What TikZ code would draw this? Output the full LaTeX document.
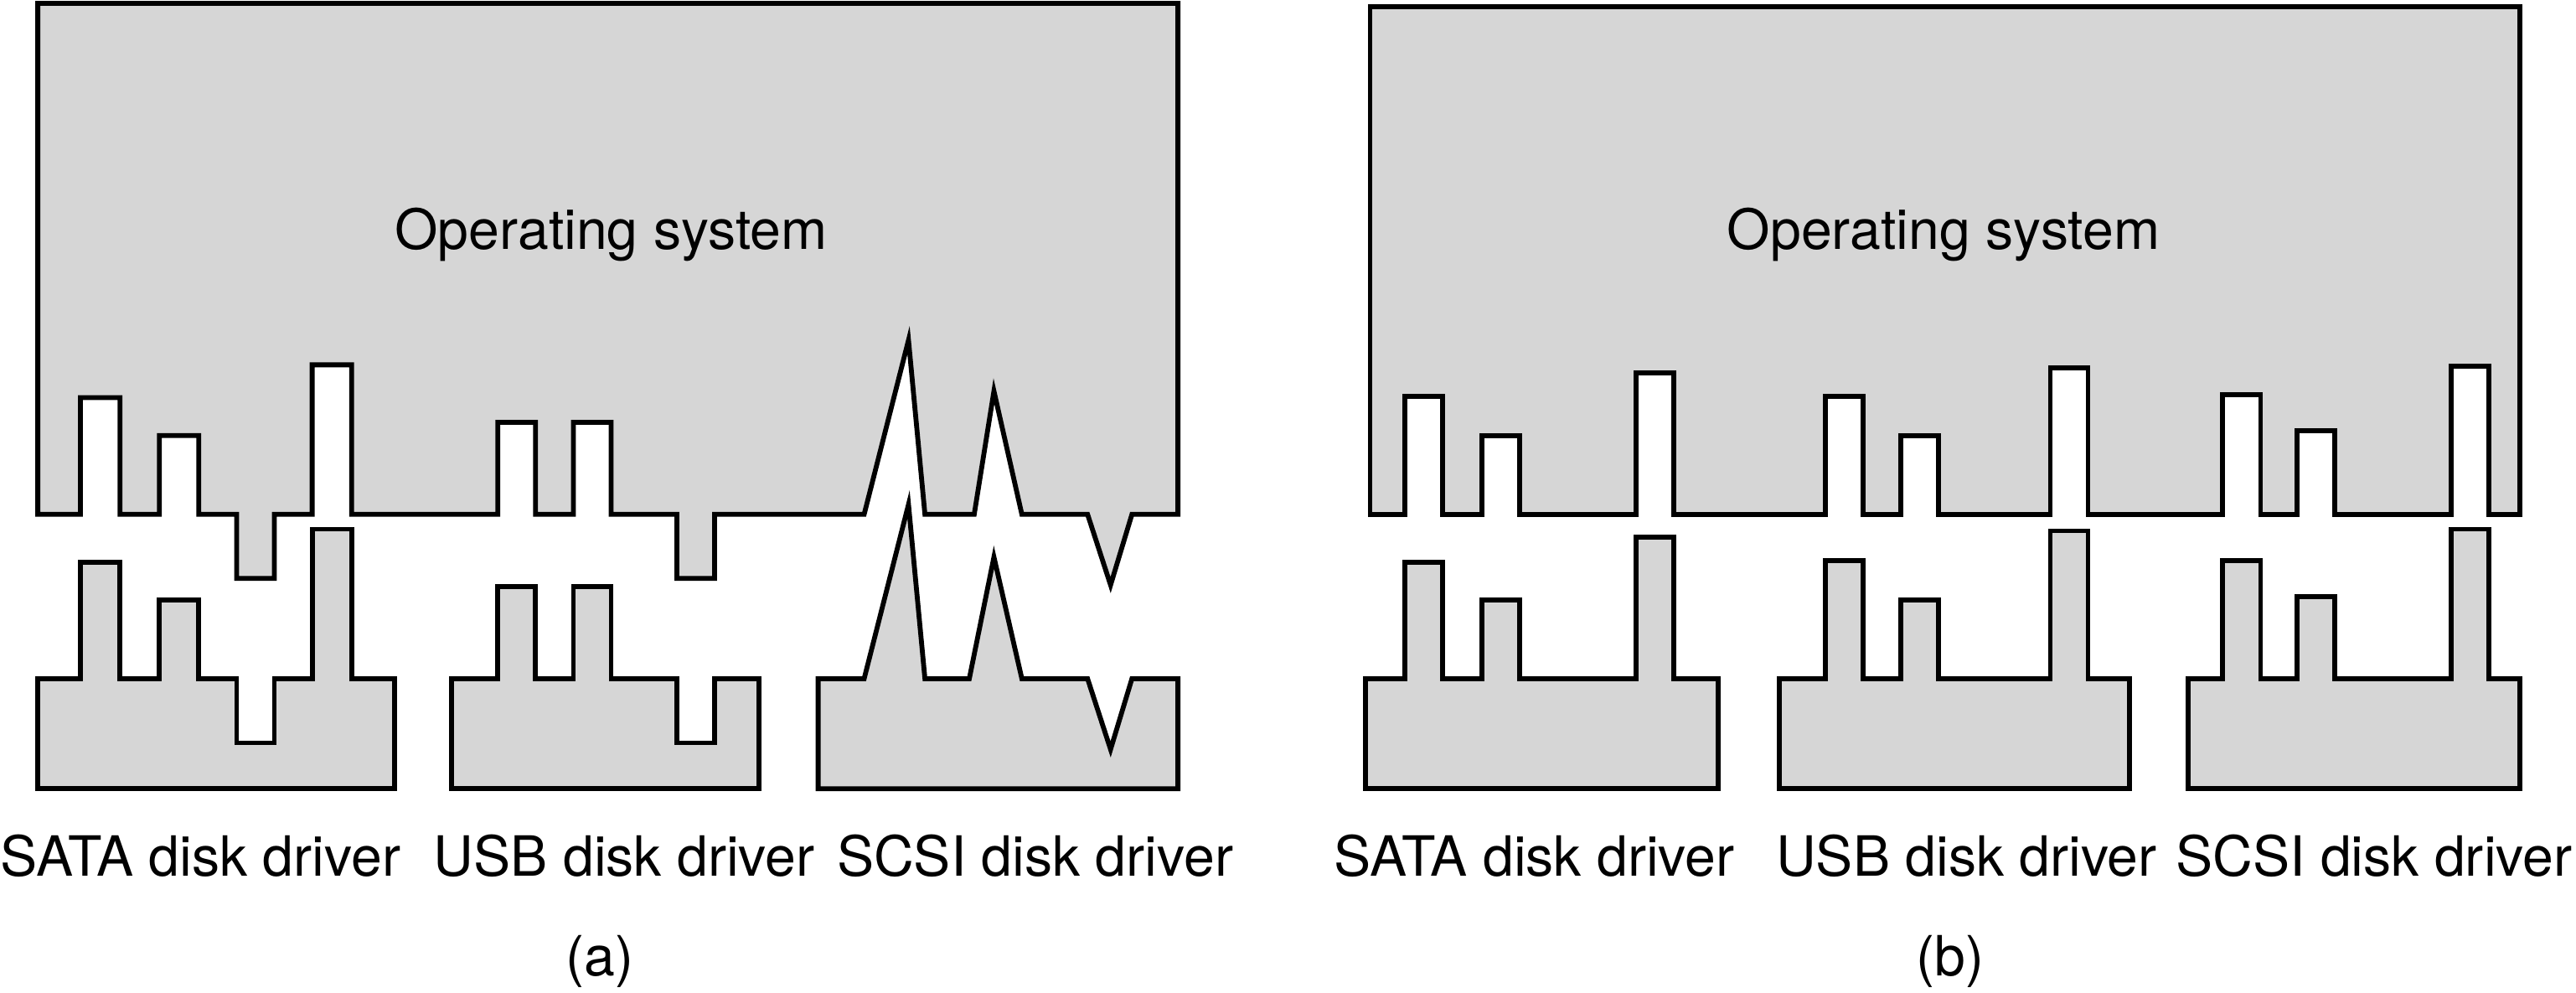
\documentclass[tikz,border=0pt]{standalone}
\usepackage{fontspec}
\setmainfont{TeX Gyre Heros}
\usepackage{tikz}
\usetikzlibrary{positioning}
\definecolor{osgray}{RGB}{214,214,214}

\begin{document}
\begin{tikzpicture}[
  x=0.25mm, y=-0.25mm,
  part/.style={draw=black, fill=osgray, line width=2.1pt, line join=miter},
  every node/.style={font=\fontsize{24}{28}\selectfont, inner sep=0pt}
]
\useasboundingbox (0,0) rectangle (1568,604);

% (a) operating system with one interface per driver
\draw[part] (23,2) -- (23,313)
  -- (49,313) -- (49,242) -- (73,242) -- (73,313)
  -- (97,313) -- (97,265) -- (121,265) -- (121,313)
  -- (144,313) -- (144,352) -- (167,352) -- (167,313)
  -- (190,313) -- (190,222) -- (214,222) -- (214,313)
  -- (303,313) -- (303,257) -- (326,257) -- (326,313)
  -- (349,313) -- (349,257) -- (372,257) -- (372,313)
  -- (412,313) -- (412,352) -- (435,352) -- (435,313)
  -- (526,313) -- (553,207) -- (563,313)
  -- (593,313) -- (605,238) -- (622,313)
  -- (662,313) -- (676,356) -- (689,313)
  -- (717,313) -- (717,2) -- cycle;

\draw[part] (23,413) -- (49,413) -- (49,342) -- (73,342) -- (73,413)
  -- (97,413) -- (97,365) -- (121,365) -- (121,413)
  -- (144,413) -- (144,452) -- (167,452) -- (167,413)
  -- (190,413) -- (190,322) -- (214,322) -- (214,413)
  -- (240,413) -- (240,480) -- (23,480) -- cycle;

\draw[part] (275,413) -- (303,413) -- (303,357) -- (326,357) -- (326,413)
  -- (349,413) -- (349,357) -- (372,357) -- (372,413)
  -- (412,413) -- (412,452) -- (435,452) -- (435,413)
  -- (462,413) -- (462,480) -- (275,480) -- cycle;

\draw[part] (498,413) -- (526,413) -- (553,307) -- (563,413)
  -- (590,413) -- (605,339) -- (622,413)
  -- (662,413) -- (676,456) -- (689,413)
  -- (717,413) -- (717,480) -- (498,480) -- cycle;

% (b) operating system with one standard interface
\draw[part] (834,4) -- (834,313)
  -- (855,313) -- (855,241) -- (878,241) -- (878,313)
  -- (902,313) -- (902,265) -- (925,265) -- (925,313)
  -- (996,313) -- (996,227) -- (1019,227) -- (1019,313)
  -- (1111,313) -- (1111,241) -- (1134,241) -- (1134,313)
  -- (1157,313) -- (1157,265) -- (1180,265) -- (1180,313)
  -- (1248,313) -- (1248,224) -- (1271,224) -- (1271,313)
  -- (1353,313) -- (1353,240) -- (1376,240) -- (1376,313)
  -- (1398,313) -- (1398,262) -- (1421,262) -- (1421,313)
  -- (1492,313) -- (1492,223) -- (1515,223) -- (1515,313)
  -- (1534,313) -- (1534,4) -- cycle;

\draw[part] (831,413) -- (855,413) -- (855,342) -- (878,342) -- (878,413)
  -- (902,413) -- (902,365) -- (925,365) -- (925,413)
  -- (996,413) -- (996,327) -- (1019,327) -- (1019,413)
  -- (1046,413) -- (1046,480) -- (831,480) -- cycle;

\draw[part] (1083,413) -- (1111,413) -- (1111,341) -- (1134,341) -- (1134,413)
  -- (1157,413) -- (1157,365) -- (1180,365) -- (1180,413)
  -- (1248,413) -- (1248,323) -- (1271,323) -- (1271,413)
  -- (1296,413) -- (1296,480) -- (1083,480) -- cycle;

\draw[part] (1332,413) -- (1353,413) -- (1353,341) -- (1376,341) -- (1376,413)
  -- (1398,413) -- (1398,363) -- (1421,363) -- (1421,413)
  -- (1492,413) -- (1492,322) -- (1515,322) -- (1515,413)
  -- (1534,413) -- (1534,480) -- (1332,480) -- cycle;

% labels
\node (osA) at (372,143) {Operating system};
\node (osB) at (1183,143) {Operating system};

\node (sataA) at (122,521) {SATA disk driver};
\node (usbA) at (380,521) {USB disk driver};
\node (scsiA) at (630,521) {SCSI disk driver};
\node (sataB) at (934,521) {SATA disk driver};
\node (usbB) at (1197,521) {USB disk driver};
\node (scsiB) at (1445,521) {SCSI disk driver};

\node (capA) at (365,585) {(a)};
\node (capB) at (1187,585) {(b)};

\end{tikzpicture}
\end{document}
